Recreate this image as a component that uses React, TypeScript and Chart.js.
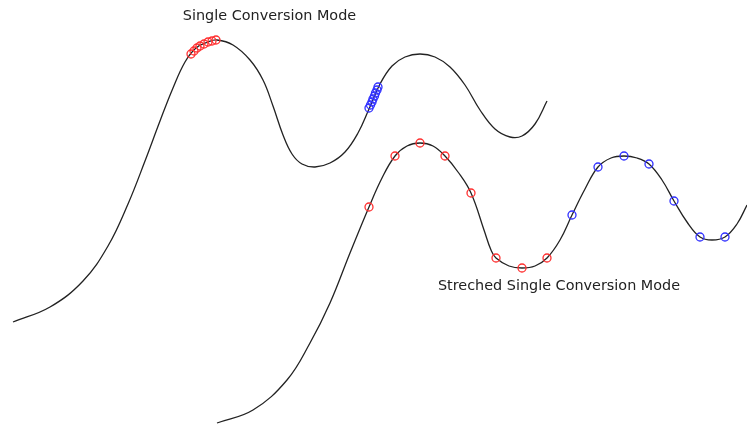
import React, { useEffect, useRef } from "react";
import { Chart, registerables } from "chart.js";

Chart.register(...registerables);

// Top curve (single conversion mode) — x, y in picture units (y grows downward)
const curve1X = [13, 50, 83, 108, 128, 145, 160, 173, 185, 196, 208, 217, 233, 250, 263, 273, 283, 292, 302, 315, 330, 345, 358, 369, 380, 392, 405, 420, 435, 450, 465, 480, 495, 510, 522, 535, 547];
const curve1Y = [322, 307, 281, 246, 204, 161, 121, 88, 62, 48, 42, 40, 45, 60, 80, 106, 135, 154, 164, 167, 163, 152, 133, 109, 84, 66, 57, 54, 57, 67, 85, 110, 129, 137, 136, 124, 101];

// Markers on the top curve
const red1X = [191, 194, 197, 200, 204, 208, 212, 216];
const red1Y = [54, 51, 48, 46, 44, 42, 41, 40];
const blue1X = [369, 370.5, 372, 373, 374.5, 375.5, 377, 378];
const blue1Y = [108, 105, 102, 99, 96, 93, 90, 87];

// Bottom curve (stretched single conversion mode)
const curve2X = [217, 253, 287, 310, 330, 350, 369, 382, 395, 407, 420, 433, 445, 458, 471, 484, 491, 496, 509, 522, 535, 547, 560, 572, 585, 598, 611, 624, 637, 649, 662, 674, 687, 700, 712, 725, 737, 747];
const curve2Y = [423, 410, 380, 343, 303, 253, 207, 178, 156, 146, 143, 146, 156, 172, 193, 230, 250, 258, 266, 268, 266, 258, 240, 215, 189, 167, 158, 156, 158, 164, 180, 201, 222, 237, 240, 237, 224, 205];

const red2X = [369, 395, 420, 445, 471, 496, 522, 547];
const red2Y = [207, 156, 143, 156, 193, 258, 268, 258];
const blue2X = [572, 598, 624, 649, 674, 700, 725];
const blue2Y = [215, 167, 156, 164, 201, 237, 237];

// Text labels
const labelTexts = ["Single Conversion Mode", "Streched Single Conversion Mode"];
const labelX = [269.5, 559];
const labelY = [16, 286];

const zip = (xs: number[], ys: number[]) => xs.map((x, i) => ({ x, y: ys[i] }));

const textPlugin = {
  id: "textLabels",
  afterDatasetsDraw(chart: any) {
    const { ctx, scales } = chart;
    ctx.save();
    ctx.font = '14.4px "DejaVu Sans", Verdana, sans-serif';
    ctx.fillStyle = "#222";
    ctx.textAlign = "center";
    ctx.textBaseline = "middle";
    labelTexts.forEach((t, i) => {
      ctx.fillText(t, scales.x.getPixelForValue(labelX[i]), scales.y.getPixelForValue(labelY[i]));
    });
    ctx.restore();
  },
};

export default function App() {
  const ref = useRef<HTMLCanvasElement | null>(null);
  useEffect(() => {
    document.body.style.margin = "0";
    if (!ref.current) return;
    const lineDs = (xs: number[], ys: number[]) => ({
      type: "line" as const,
      data: zip(xs, ys),
      borderColor: "#222",
      borderWidth: 1.3,
      pointRadius: 0,
      showLine: true,
      fill: false,
      tension: 0.4,
      clip: false as any,
      order: 2,
    });
    const markDs = (xs: number[], ys: number[], color: string) => ({
      type: "scatter" as const,
      data: zip(xs, ys),
      borderColor: color,
      backgroundColor: "rgba(0,0,0,0)",
      pointRadius: 4,
      pointBorderWidth: 1.3,
      showLine: false,
      clip: false as any,
      order: 1,
    });
    const chart = new Chart(ref.current, {
      type: "scatter",
      data: {
        datasets: [
          lineDs(curve1X, curve1Y),
          lineDs(curve2X, curve2Y),
          markDs(red1X, red1Y, "#ff3030"),
          markDs(blue1X, blue1Y, "#3030ff"),
          markDs(red2X, red2Y, "#ff3030"),
          markDs(blue2X, blue2Y, "#3030ff"),
        ] as any,
      },
      options: {
        animation: false,
        responsive: true,
        maintainAspectRatio: false,
        layout: { padding: 0, autoPadding: false },
        plugins: { legend: { display: false }, tooltip: { enabled: false } },
        scales: {
          x: { type: "linear", min: 0, max: 747, display: false },
          y: { type: "linear", min: 0, max: 426, reverse: true, display: false },
        },
      },
      plugins: [textPlugin],
    });
    return () => chart.destroy();
  }, []);
  return (
    <div style={{ position: "absolute", left: 0, top: 0, width: 747, height: 426, background: "#fff" }}>
      <canvas ref={ref} />
    </div>
  );
}
